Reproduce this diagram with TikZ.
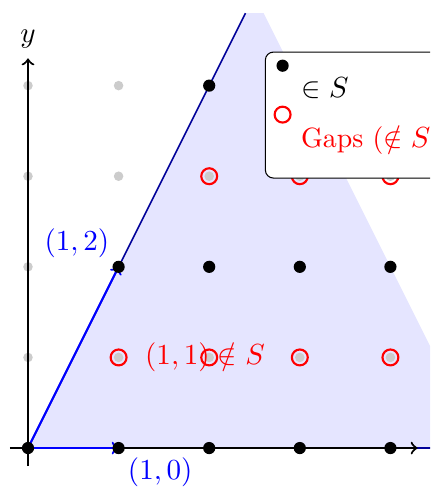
\documentclass[tikz,border=0pt]{standalone}
\begin{document}
\begin{tikzpicture}[x=1.2cm,y=1.2cm,
  every node/.style={font=\fontsize{10.5pt}{12.6pt}\selectfont},
  gdot/.style={fill=black!20},
  sdot/.style={fill=black},
  gapc/.style={draw=red,thick},
  vec/.style={->,blue,thick},
  axis/.style={->,thick}]
\useasboundingbox (-0.309,-0.441) rectangle (4.437,4.945);
\clip (-0.309,-0.441) rectangle (4.437,4.945);
\fill[blue!10] (0,0) -- (2.4,4.8) -- (2.6,4.8) -- (5,0) -- cycle;
\draw[blue!60!black,semithick] (2.4,4.8) -- (0,0) -- (5,0);
\foreach \x in {0,...,4} \foreach \y in {0,...,4} \fill[gdot] (\x,\y) circle (1.8pt);
\draw[axis] (-0.2,0) -- (4.3,0);
\draw[axis] (0,-0.2) -- (0,4.3) node[above] (ylab) {$y$};
\coordinate (O) at (0,0);
\coordinate (e1) at (1,0);
\coordinate (e2) at (1,2);
\draw[vec] (O) -- (e1);
\draw[vec] (O) -- (e2);
\foreach \p in {(0,0),(1,0),(2,0),(3,0),(4,0),(1,2),(2,2),(3,2),(4,2),(2,4),(3,4),(4,4)}
  \fill[sdot] \p circle (2.3pt);
\foreach \p in {(1,1),(2,1),(3,1),(4,1),(2,3),(3,3),(4,3)}
  \draw[gapc] \p circle (3pt);
\node[blue,above left] (l12) at (e2) {$(1,2)$};
\node[blue,below right] (l10) at (e1) {$(1,0)$};
\node[red,anchor=west] (l11) at (1.19,1) {$(1,1)\notin S$};
\draw[rounded corners=3pt,fill=white] (2.62,2.98) rectangle (5.3,4.37);
\fill[sdot] (2.81,4.22) circle (2.3pt);
\node (lin) at (3.28,3.97) {$\in S$};
\draw[gapc] (2.81,3.68) circle (3pt);
\node[red,anchor=west] (lgap) at (2.91,3.40) {Gaps ($\notin S$)};
\end{tikzpicture}
\end{document}
